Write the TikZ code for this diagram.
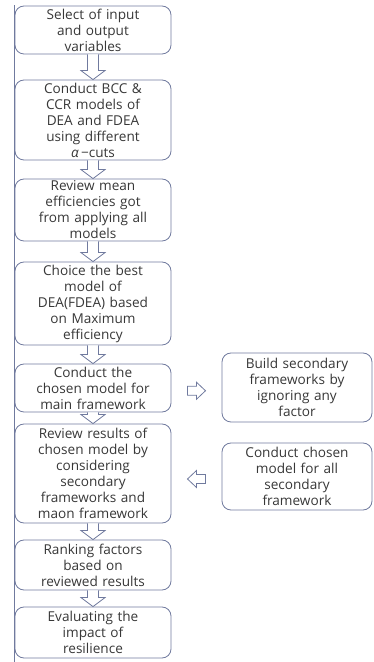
\documentclass[tikz,border=0pt]{standalone}
\usepackage{fontspec}
\setmainfont{Open Sans}
\usetikzlibrary{calc}

\definecolor{frameblue}{RGB}{112,122,158}
\definecolor{textgray}{RGB}{55,55,55}

\begin{document}
\begin{tikzpicture}[x=1pt,y=1pt]
    % --- Styles ---
    \tikzset{
        stepbox/.style={
            draw=frameblue,
            line width=0.8pt,
            rounded corners=9pt,
            text width=154pt,
            align=center,
            inner sep=1pt,
            text=textgray,
            font=\fontsize{13.6}{16}\selectfont
        },
        sidebox/.style={
            stepbox,
            text width=148pt
        },
        blockarrow/.style={
            draw=frameblue,
            fill=white,
            line width=0.8pt,
            line join=miter
        },
        frame line/.style={
            draw=frameblue,
            line width=0.8pt
        }
    }

    % fixed page size (374 x 662)
    \useasboundingbox (0,0) rectangle (374,662);

    % left guide line
    \draw[frame line] (14.5,0) -- (14.5,657);

    % =========================================================
    % 1. MAIN FLOW
    % =========================================================
    \node[stepbox, minimum height=48pt] (b1) at (93,632)
        {Select of input\\ and output\\ variables};
    \node[stepbox, minimum height=80pt] (b2) at (93,542)
        {Conduct BCC \&\\ CCR models of\\ DEA and FDEA\\ using different\\ \textit{α}\,−cuts};
    \node[stepbox, minimum height=62pt] (b3) at (93,452)
        {Review mean\\ efficiencies got\\ from applying all\\ models};
    \node[stepbox, minimum height=83pt] (b4) at (93,358.5)
        {Choice the best\\ model of\\ DEA(FDEA) based\\ on Maximum\\ efficiency};
    \node[stepbox, minimum height=48pt] (b5) at (93,274)
        {Conduct the\\ chosen model for\\ main framework};
    \node[stepbox, minimum height=99pt] (b6) at (93,188.5)
        {Review results of\\ chosen model by\\ considering\\ secondary\\ frameworks and\\ maon framework};
    \node[stepbox, minimum height=50pt] (b7) at (93,97)
        {Ranking factors\\ based on\\ reviewed results};
    \node[stepbox, minimum height=51pt] (b8) at (93,29.5)
        {Evaluating the\\ impact of\\ resilience};

    % =========================================================
    % 2. SECONDARY FRAMEWORKS
    % =========================================================
    \node[sidebox, minimum height=69pt] (r1) at (297,274.5)
        {Build secondary\\ frameworks by\\ ignoring any\\ factor};
    \node[sidebox, minimum height=67pt] (r2) at (297,185.5)
        {Conduct chosen\\ model for all\\ secondary\\ framework};

    % =========================================================
    % 3. BLOCK ARROWS
    % =========================================================
    % downward arrows between steps
    \foreach \a/\b in {b1/b2,b2/b3,b3/b4,b4/b5,b5/b6,b6/b7,b7/b8} {
        \draw[blockarrow] let \p1=(\a.south), \p2=(\b.north) in
            (\x1-5.5,\y1) -- (\x1-5.5,\y2+9) -- (\x1-12,\y2+9) -- (\x1,\y2)
            -- (\x1+12,\y2+9) -- (\x1+5.5,\y2+9) -- (\x1+5.5,\y1);
    }

    % main framework -> secondary frameworks
    \coordinate (ra) at ($(b5.east)!0.5!(r1.west)+(0,-3)$);
    \draw[blockarrow] ($(ra)+(-9,4.5)$) -- ($(ra)+(0,4.5)$) -- ($(ra)+(0,8.5)$)
        -- ($(ra)+(9,0)$) -- ($(ra)+(0,-8.5)$) -- ($(ra)+(0,-4.5)$)
        -- ($(ra)+(-9,-4.5)$) -- cycle;

    % secondary frameworks -> review results
    \coordinate (la) at ($(r2.west)!0.5!(b6.east)+(0,-4)$);
    \draw[blockarrow] ($(la)+(9,4.5)$) -- ($(la)+(0,4.5)$) -- ($(la)+(0,8.5)$)
        -- ($(la)+(-9,0)$) -- ($(la)+(0,-8.5)$) -- ($(la)+(0,-4.5)$)
        -- ($(la)+(9,-4.5)$) -- cycle;

\end{tikzpicture}
\end{document}
